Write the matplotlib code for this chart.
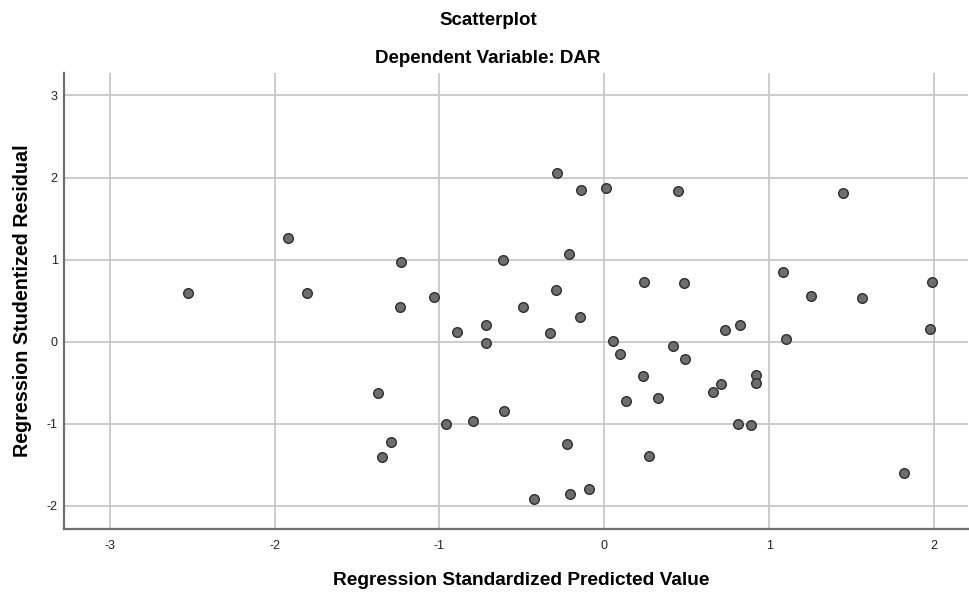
import numpy as np
import matplotlib.pyplot as plt

plt.rcParams['font.family'] = ['Liberation Sans', 'DejaVu Sans']

# Regression standardized predicted value / studentized residual
pred = [-2.526, -1.916, -1.805, -1.235, -1.239, -1.035, -0.891, -0.717, -0.717,
        -1.374, -1.292, -1.348, -0.960, -0.796,
        -0.287, -0.141, 0.008, 0.447, 1.449, -0.616, -0.212, 1.082, 0.243, 0.481,
        1.987, 1.252, 1.563, -0.295, -0.493, -0.147, -0.327, 0.732, 0.821, 1.975,
        0.051, 1.100, 0.419, 0.095,
        0.491, 0.233, 0.133, 0.324, 0.661, 0.708, 0.918, 0.918, 0.809, 0.890,
        -0.610, -0.226, 0.271, 1.819, -0.428, -0.206, -0.095]
resid = [0.597, 1.263, 0.597, 0.967, 0.426, 0.544, 0.122, 0.207, -0.012,
         -0.629, -1.218, -1.404, -1.006, -0.962,
         2.050, 1.850, 1.870, 1.835, 1.815, 0.995, 1.064, 0.849, 0.723, 0.715,
         0.731, 0.561, 0.528, 0.634, 0.427, 0.301, 0.106, 0.146, 0.199, 0.159,
         0.012, 0.033, -0.048, -0.146,
         -0.215, -0.418, -0.718, -0.686, -0.617, -0.519, -0.401, -0.503, -0.999, -1.019,
         -0.844, -1.246, -1.396, -1.599, -1.912, -1.855, -1.798]

xticks = [-3, -2, -1, 0, 1, 2]
yticks = [-2, -1, 0, 1, 2, 3]

fig = plt.figure(figsize=(9.7, 5.92), dpi=100)
ax = fig.add_axes([0.066, 0.1064, 0.932, 0.7703])

ax.scatter(pred, resid, s=48, c='#6e6e6e', edgecolors='#2e2e2e', linewidths=1.0, zorder=3)

ax.set_xlim(-3.277, 2.206)
ax.set_ylim(-2.281, 3.273)
ax.set_xticks(xticks)
ax.set_yticks(yticks)
ax.set_xticklabels([str(t) for t in xticks])
ax.set_yticklabels([str(t) for t in yticks])
ax.tick_params(length=0, labelsize=9, colors='#222222')
ax.tick_params(axis='x', pad=8)
ax.tick_params(axis='y', pad=4.5)

ax.grid(True, color='#c8c8c8', linewidth=1.3, zorder=0)
ax.set_axisbelow(True)
for side in ['top', 'right']:
    ax.spines[side].set_visible(False)
for side in ['left', 'bottom']:
    ax.spines[side].set_color('#707070')
    ax.spines[side].set_linewidth(1.6)

fig.text(0.503, 0.965, 'Scatterplot', ha='center', va='center',
         fontsize=13.5, fontweight='bold')
fig.text(0.503, 0.901, 'Dependent Variable: DAR', ha='center', va='center',
         fontsize=13.5, fontweight='bold')
fig.text(0.537, 0.019, 'Regression Standardized Predicted Value', ha='center', va='center',
         fontsize=13.8, fontweight='bold')
fig.text(0.023, 0.492, 'Regression Studentized Residual', ha='center', va='center',
         rotation=90, fontsize=14.2, fontweight='bold')

fig.savefig('out.png', dpi=100)
